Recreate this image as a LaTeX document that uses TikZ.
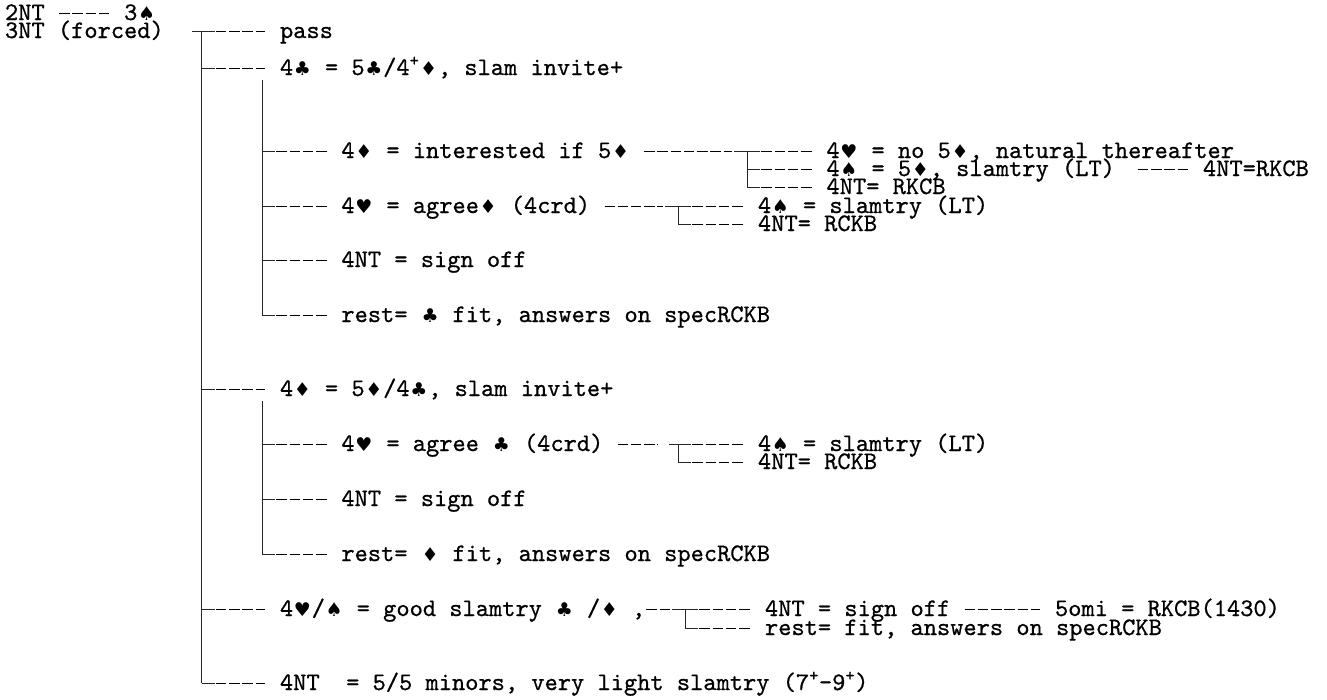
\documentclass[tikz,border=0pt]{standalone}
\usepackage{fontspec}
\newfontfamily\suitfont{DejaVu Sans}
\newfontfamily\treefont{lmmono10-regular.otf}[FakeBold=0.7]
% card suits, boxed to a fixed width inside the monospaced text
\newcommand{\suit}[1]{\makebox[0.735em][c]{\suitfont\fontsize{19pt}{19pt}\selectfont #1}}
\newcommand{\spd}{\suit{♠}}
\newcommand{\hrt}{\suit{♥}}
\newcommand{\dmd}{\suit{♦}}
\newcommand{\clb}{\suit{♣}}
\newcommand{\pl}{\textsuperscript{+}}
\begin{document}
\begin{tikzpicture}[x=1pt,y=1pt,
  tx/.style={anchor=base west, inner sep=0pt, outer sep=0pt,
    font=\treefont\fontsize{25.2pt}{25.2pt}\selectfont},
  boxln/.style={draw=black!85, line width=1pt},
  hy/.style={draw=black, line width=1pt, dash pattern=on 10.4pt off 2.83pt},
  lead/.style={hy, shorten <=14.43pt, shorten >=14.86pt},
  tail/.style={hy, shorten <=14.43pt, shorten >=1.63pt},
  arm/.style={boxln},
]
\useasboundingbox (0,0) rectangle (1327,-699);

% ---------- opening ----------
\node[tx] (o2nt) at (5,-20) {2NT};
\node[tx] (o3s) at (124.1,-20) {3\spd};
\draw[lead] ([yshift=7pt]o2nt.base east) -- ([yshift=7pt]o3s.base west);
\node[tx] (o3nt) at (5,-38) {3NT (forced)};

% ---------- first level ----------
\node[tx] (pass) at (280,-38) {pass};
\node[tx] (c4c) at (280,-75) {4\clb{} = 5\clb/4\pl\dmd, slam invite+};
\node[tx] (c4d) at (280,-396) {4\dmd{} = 5\dmd/4\clb, slam invite+};
\node[tx] (c4hs) at (280,-616) {4\hrt/\spd{} = good slamtry \clb{} /\dmd{} ,};
\node[tx] (c4nt) at (280,-690) {4NT\ \ = 5/5 minors, very light slamtry (7\pl-9\pl)};

\coordinate (t1a) at (201.5,-31);
\coordinate (t1b) at (201.5,-68);
\coordinate (t1c) at (201.5,-389);
\coordinate (t1d) at (201.5,-609);
\coordinate (t1e) at (201.5,-683);
\draw[boxln] (t1a) -- (t1e);
\draw[arm] ([xshift=-9.5pt]t1a) -- ([xshift=13.23pt]t1a);
\foreach \j in {t1b,t1c,t1d,t1e} \draw[arm] (\j) -- ++(13.23,0);
\draw[lead] (t1a) -- ([yshift=7pt]pass.base west);
\draw[lead] (t1b) -- ([yshift=7pt]c4c.base west);
\draw[lead] (t1c) -- ([yshift=7pt]c4d.base west);
\draw[lead] (t1d) -- ([yshift=7pt]c4hs.base west);
\draw[lead] (t1e) -- ([yshift=7pt]c4nt.base west);

% ---------- after 4 clubs ----------
\node[tx] (a4d) at (341.4,-158) {4\dmd{} = interested if 5\dmd};
\node[tx] (a4h) at (341.4,-213) {4\hrt{} = agree\dmd{} (4crd)};
\node[tx] (a4nt) at (341.4,-267) {4NT = sign off};
\node[tx] (arest) at (341.4,-322) {rest= \clb{} fit, answers on specRCKB};

\coordinate (t2a) at (262,-80);
\coordinate (t2b) at (262,-151);
\coordinate (t2c) at (262,-206);
\coordinate (t2d) at (262,-260);
\coordinate (t2e) at (262,-315);
\draw[boxln] (t2a) -- (t2e);
\foreach \j in {t2b,t2c,t2d,t2e} \draw[arm] (\j) -- ++(13.23,0);
\draw[lead] (t2b) -- ([yshift=7pt]a4d.base west);
\draw[lead] (t2c) -- ([yshift=7pt]a4h.base west);
\draw[lead] (t2d) -- ([yshift=7pt]a4nt.base west);
\draw[lead] (t2e) -- ([yshift=7pt]arest.base west);

% 4 diamonds = interested if 5 diamonds
\node[tx] (b4h) at (826.5,-158) {4\hrt{} = no 5\dmd, natural thereafter};
\node[tx] (b4s) at (826.5,-176) {4\spd{} = 5\dmd, slamtry (LT)};
\node[tx] (b4ntr) at (1203,-176) {4NT=RKCB};
\node[tx] (b4nt) at (826.5,-194) {4NT= RKCB};
\coordinate (t3a) at (747,-151);
\coordinate (t3b) at (747,-169);
\coordinate (t3c) at (747,-187);
\draw[tail] ([yshift=7pt]a4d.base east) -- ([xshift=-13.23pt]t3a);
\draw[boxln] (t3a) -- (t3c);
\draw[arm] ([xshift=-13.23pt]t3a) -- ([xshift=13.23pt]t3a);
\foreach \j in {t3b,t3c} \draw[arm] (\j) -- ++(13.23,0);
\draw[lead] (t3a) -- ([yshift=7pt]b4h.base west);
\draw[lead] (t3b) -- ([yshift=7pt]b4s.base west);
\draw[lead] (t3c) -- ([yshift=7pt]b4nt.base west);
\draw[lead, shorten <=23pt] ([yshift=7pt]b4s.base east) -- ([yshift=7pt]b4ntr.base west);

% 4 hearts = agree diamonds
\node[tx] (d4s) at (758,-213) {4\spd{} = slamtry (LT)};
\node[tx] (d4nt) at (758,-231) {4NT= RCKB};
\coordinate (t4a) at (678,-206);
\coordinate (t4b) at (678,-224);
\draw[tail] ([yshift=7pt]a4h.base east) -- ([xshift=-13.23pt]t4a);
\draw[boxln] (t4a) -- (t4b);
\draw[arm] ([xshift=-13.23pt]t4a) -- ([xshift=13.23pt]t4a);
\draw[arm] (t4b) -- ++(13.23,0);
\draw[lead] (t4a) -- ([yshift=7pt]d4s.base west);
\draw[lead] (t4b) -- ([yshift=7pt]d4nt.base west);

% ---------- after 4 diamonds ----------
\node[tx] (e4h) at (341.4,-451) {4\hrt{} = agree \clb{} (4crd)};
\node[tx] (e4nt) at (341.4,-506) {4NT = sign off};
\node[tx] (erest) at (341.4,-561) {rest= \dmd{} fit, answers on specRCKB};
\coordinate (t5a) at (262,-401);
\coordinate (t5b) at (262,-444);
\coordinate (t5c) at (262,-499);
\coordinate (t5d) at (262,-554);
\draw[boxln] (t5a) -- (t5d);
\foreach \j in {t5b,t5c,t5d} \draw[arm] (\j) -- ++(13.23,0);
\draw[lead] (t5b) -- ([yshift=7pt]e4h.base west);
\draw[lead] (t5c) -- ([yshift=7pt]e4nt.base west);
\draw[lead] (t5d) -- ([yshift=7pt]erest.base west);

\node[tx] (f4s) at (758,-451) {4\spd{} = slamtry (LT)};
\node[tx] (f4nt) at (758,-469) {4NT= RCKB};
\coordinate (t6a) at (678,-444);
\coordinate (t6b) at (678,-462);
\draw[hy, shorten <=14.43pt, shorten >=7pt] ([yshift=7pt]e4h.base east) -- ([xshift=-13.23pt]t6a);
\draw[boxln] (t6a) -- (t6b);
\draw[arm] ([xshift=-9pt]t6a) -- ([xshift=13.23pt]t6a);
\draw[arm] (t6b) -- ++(13.23,0);
\draw[lead] (t6a) -- ([yshift=7pt]f4s.base west);
\draw[lead] (t6b) -- ([yshift=7pt]f4nt.base west);

% ---------- after 4 hearts / 4 spades ----------
\node[tx] (g4nt) at (765,-616) {4NT = sign off};
\node[tx] (g5omi) at (1055,-616) {5omi = RKCB(1430)};
\node[tx] (grest) at (765,-635) {rest= fit, answers on specRCKB};
\coordinate (t7a) at (685,-609);
\coordinate (t7b) at (685,-628);
\draw[hy, shorten <=1.2pt, shorten >=1.63pt] ([yshift=7pt]c4hs.base east) -- ([xshift=-13.23pt]t7a);
\draw[boxln] (t7a) -- (t7b);
\draw[arm] ([xshift=-13.23pt]t7a) -- ([xshift=13.23pt]t7a);
\draw[arm] (t7b) -- ++(13.23,0);
\draw[lead] (t7a) -- ([yshift=7pt]g4nt.base west);
\draw[lead] (t7b) -- ([yshift=7pt]grest.base west);
\draw[lead] ([yshift=7pt]g4nt.base east) -- ([yshift=7pt]g5omi.base west);
\end{tikzpicture}
\end{document}
